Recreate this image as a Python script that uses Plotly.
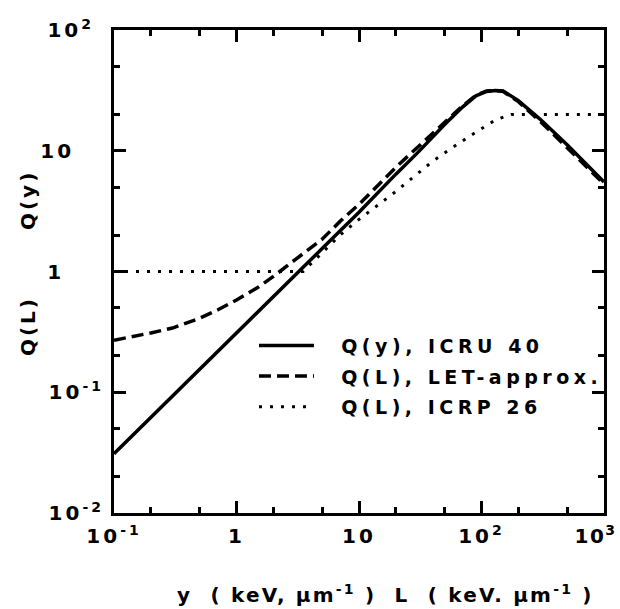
import plotly.graph_objects as go

# ---- data ----
y_icru = [0.1, 0.2, 0.5, 1, 2, 5, 10, 20, 30, 50, 70, 90, 110, 130, 150, 200, 300, 500, 700, 1000]
q_icru = [0.031, 0.062, 0.155, 0.31, 0.62, 1.55, 3.1, 6.4, 9.6, 16.5, 23.0, 28.5, 31.0, 31.6, 31.3, 26.0, 18.3, 11.2, 8.0, 5.5]

l_let = [0.1, 0.15, 0.2, 0.3, 0.5, 0.7, 1, 1.5, 2, 3, 5, 7, 10, 20, 30, 50, 70, 90, 110, 130, 150, 200, 300, 500, 700, 1000]
q_let = [0.27, 0.29, 0.31, 0.34, 0.41, 0.48, 0.58, 0.74, 0.91, 1.25, 1.85, 2.6, 3.6, 7.3, 10.6, 17.3, 23.5, 28.8, 31.2, 31.6, 31.0, 25.5, 17.6, 10.6, 7.6, 5.3]

l_icrp = [0.1, 3.5, 7, 10, 20, 40, 53, 80, 130, 175, 1000]
q_icrp = [1, 1, 2, 2.7, 4.6, 8.2, 10, 13.2, 18, 20, 20]

names = ["Q(y), ICRU 40", "Q(L), LET-approx.", "Q(L), ICRP 26"]

x_tickvals = [0.1, 1, 10, 100, 1000]
x_ticktext = ["10<sup>-1</sup>", "1", "10", "10<sup>2</sup>", "10<sup>3</sup>\u00a0\u00a0"]
x_tickspacing = [3, 3, 3, 3, 1.5]
y_tickvals = [0.01, 0.1, 1, 10, 100]
y_ticktext = ["10<sup>-2</sup>", "10<sup>-1</sup>", "1" + "\u00a0" * 4, "10" + "\u00a0" * 3, "10<sup>2</sup>" + "\u00a0"]
minor_vals = [0.02, 0.05, 0.2, 0.5, 2, 5, 20, 50, 200, 500]

FONT = "DejaVu Sans"


def sp(t, s=4.5):
    return '<span style="letter-spacing:%spx">%s</span>' % (s, t)


lead = "\u00a0\u00a0"

fig = go.Figure()
fig.add_trace(go.Scatter(x=y_icru, y=q_icru, mode="lines", name=sp(lead + names[0]), legendgroup="a",
                         line=dict(color="black", width=3.5)))
fig.add_trace(go.Scatter(x=l_let, y=q_let, mode="lines", name=sp(lead + names[1]), legendgroup="b",
                         line=dict(color="black", width=3.5, dash="12px,6px")))
fig.add_trace(go.Scatter(x=l_icrp, y=q_icrp, mode="lines", name=sp(lead + names[2]), legendgroup="c",
                         line=dict(color="black", width=3, dash="3px,8px")))

axis_common = dict(
    type="log", showline=True, linecolor="black", linewidth=3, mirror="ticks",
    ticks="inside", ticklen=12, tickwidth=3, tickcolor="black",
    showgrid=False, zeroline=False, tickmode="array", ticklabeloverflow="allow",
    automargin=False,
    tickfont=dict(family=FONT, size=20, color="black", weight="bold"),
    minor=dict(tickmode="array", tickvals=minor_vals, ticks="inside", ticklen=6,
               tickwidth=2.5, tickcolor="black", showgrid=False),
)

fig.update_layout(
    width=620, height=609, autosize=False,
    margin=dict(l=114, r=16, t=30, b=96),
    paper_bgcolor="white", plot_bgcolor="white",
    xaxis=dict(axis_common, range=[-1, 3], tickvals=x_tickvals,
               ticktext=[sp(t, s) for t, s in zip(x_ticktext, x_tickspacing)], ticklabelstandoff=3),
    yaxis=dict(axis_common, range=[-2, 2], tickvals=y_tickvals,
               ticktext=[sp(t, 3) for t in y_ticktext], ticklabelstandoff=3),
    showlegend=True,
    legend=dict(x=0.2857, y=0.386, xanchor="left", yanchor="top", itemwidth=55,
                bgcolor="rgba(0,0,0,0)", borderwidth=0, tracegroupgap=3,
                font=dict(family=FONT, size=19, color="black", weight="bold")),
    annotations=[
        dict(text=sp("Q(y)", 3), xref="paper", yref="paper", x=-0.1755, y=0.648,
             xanchor="center", yanchor="middle", showarrow=False, textangle=-90,
             font=dict(family=FONT, size=20, color="black", weight="bold")),
        dict(text=sp("Q(L)", 3), xref="paper", yref="paper", x=-0.1755, y=0.387,
             xanchor="center", yanchor="middle", showarrow=False, textangle=-90,
             font=dict(family=FONT, size=20, color="black", weight="bold")),
        dict(text=sp("y\u00a0\u00a0(\u00a0keV,\u00a0µm<sup>-1</sup>\u00a0)\u00a0\u00a0L\u00a0\u00a0(\u00a0keV.\u00a0µm<sup>-1</sup>\u00a0)", 2.2),
             xref="paper", yref="paper", x=0.555, y=-0.168, xanchor="center", yanchor="middle",
             showarrow=False,
             font=dict(family=FONT, size=20, color="black", weight="bold")),
    ],
)

fig.write_html("out.html")
